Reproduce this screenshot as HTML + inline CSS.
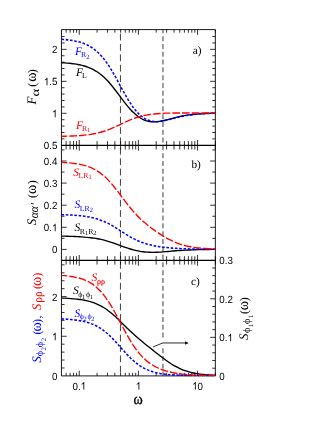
<!DOCTYPE html>
<html><head><meta charset="utf-8"><title>Figure</title>
<style>
html,body{margin:0;padding:0;background:#fff;}
body{width:332px;height:430px;overflow:hidden;position:relative;font-family:"Liberation Sans",sans-serif;}
svg text{white-space:pre;}
</style></head><body>
<svg width="332" height="430" viewBox="0 0 332 430" style="position:absolute;left:0;top:0;will-change:transform" text-rendering="geometricPrecision">
<rect width="332" height="430" fill="#fff"/>
<defs><clipPath id="ca"><rect x="60.95" y="29.6" width="154.9" height="346.9"/></clipPath></defs>
<path d="M120.45 29.6V375.9" stroke="#000" stroke-width="0.75" stroke-dasharray="6.8 3.58" stroke-dashoffset="6.3" fill="none"/>
<path d="M162.95 29.6V375.9" stroke="#858585" stroke-width="1.6" stroke-dasharray="5 2.8" stroke-dashoffset="1.25" fill="none"/>
<path d="M66.13 29.6V32.7M66.13 141.1V149.5M66.13 256.2V264.6M66.13 372.8V375.9M70.09 29.6V32.7M70.09 141.1V149.5M70.09 256.2V264.6M70.09 372.8V375.9M73.52 29.6V32.7M73.52 141.1V149.5M73.52 256.2V264.6M73.52 372.8V375.9M76.55 29.6V32.7M76.55 141.1V149.5M76.55 256.2V264.6M76.55 372.8V375.9M79.25 29.6V34.8M79.25 139.9V150.7M79.25 255V265.8M79.25 370.7V375.9M97.06 29.6V32.7M97.06 141.1V149.5M97.06 256.2V264.6M97.06 372.8V375.9M107.47 29.6V32.7M107.47 141.1V149.5M107.47 256.2V264.6M107.47 372.8V375.9M114.86 29.6V32.7M114.86 141.1V149.5M114.86 256.2V264.6M114.86 372.8V375.9M120.6 29.6V32.7M120.6 141.1V149.5M120.6 256.2V264.6M120.6 372.8V375.9M125.28 29.6V32.7M125.28 141.1V149.5M125.28 256.2V264.6M125.28 372.8V375.9M129.24 29.6V32.7M129.24 141.1V149.5M129.24 256.2V264.6M129.24 372.8V375.9M132.67 29.6V32.7M132.67 141.1V149.5M132.67 256.2V264.6M132.67 372.8V375.9M135.69 29.6V32.7M135.69 141.1V149.5M135.69 256.2V264.6M135.69 372.8V375.9M138.4 29.6V34.8M138.4 139.9V150.7M138.4 255V265.8M138.4 370.7V375.9M156.2 29.6V32.7M156.2 141.1V149.5M156.2 256.2V264.6M156.2 372.8V375.9M166.62 29.6V32.7M166.62 141.1V149.5M166.62 256.2V264.6M166.62 372.8V375.9M174.01 29.6V32.7M174.01 141.1V149.5M174.01 256.2V264.6M174.01 372.8V375.9M179.74 29.6V32.7M179.74 141.1V149.5M179.74 256.2V264.6M179.74 372.8V375.9M184.42 29.6V32.7M184.42 141.1V149.5M184.42 256.2V264.6M184.42 372.8V375.9M188.38 29.6V32.7M188.38 141.1V149.5M188.38 256.2V264.6M188.38 372.8V375.9M191.81 29.6V32.7M191.81 141.1V149.5M191.81 256.2V264.6M191.81 372.8V375.9M194.84 29.6V32.7M194.84 141.1V149.5M194.84 256.2V264.6M194.84 372.8V375.9M197.55 29.6V34.8M197.55 139.9V150.7M197.55 255V265.8M197.55 370.7V375.9M215.35 29.6V32.7M215.35 141.1V149.5M215.35 256.2V264.6M215.35 372.8V375.9M61.45 138.88H64.55M212.25 138.88H215.35M61.45 132.49H64.55M212.25 132.49H215.35M61.45 126.09H64.55M212.25 126.09H215.35M61.45 119.69H64.55M212.25 119.69H215.35M61.45 106.9H64.55M212.25 106.9H215.35M61.45 100.51H64.55M212.25 100.51H215.35M61.45 94.11H64.55M212.25 94.11H215.35M61.45 87.72H64.55M212.25 87.72H215.35M61.45 74.93H64.55M212.25 74.93H215.35M61.45 68.53H64.55M212.25 68.53H215.35M61.45 62.14H64.55M212.25 62.14H215.35M61.45 55.74H64.55M212.25 55.74H215.35M61.45 42.95H64.55M212.25 42.95H215.35M61.45 36.56H64.55M212.25 36.56H215.35M61.45 113.3H66.65M210.15 113.3H215.35M61.45 81.32H66.65M210.15 81.32H215.35M61.45 49.35H66.65M210.15 49.35H215.35M61.45 238.35H64.55M212.25 238.35H215.35M61.45 216.25H64.55M212.25 216.25H215.35M61.45 194.15H64.55M212.25 194.15H215.35M61.45 172.05H64.55M212.25 172.05H215.35M61.45 149.95H64.55M212.25 149.95H215.35M61.45 249.4H66.65M210.15 249.4H215.35M61.45 227.3H66.65M210.15 227.3H215.35M61.45 205.2H66.65M210.15 205.2H215.35M61.45 183.1H66.65M210.15 183.1H215.35M61.45 161H66.65M210.15 161H215.35M61.45 367.97H64.55M61.45 360.04H64.55M61.45 352.11H64.55M61.45 344.18H64.55M61.45 328.32H64.55M61.45 320.39H64.55M61.45 312.46H64.55M61.45 304.53H64.55M61.45 288.67H64.55M61.45 280.74H64.55M61.45 272.81H64.55M61.45 264.88H64.55M61.45 336.25H66.65M61.45 296.6H66.65M212.25 368.19H215.35M212.25 360.48H215.35M212.25 352.77H215.35M212.25 345.06H215.35M212.25 329.64H215.35M212.25 321.93H215.35M212.25 314.22H215.35M212.25 306.51H215.35M212.25 291.09H215.35M212.25 283.38H215.35M212.25 275.67H215.35M212.25 267.96H215.35M210.15 337.35H215.35M210.15 298.8H215.35" stroke="#000" stroke-width="0.8" fill="none"/>
<path d="M61.45 29.6H215.35V375.9H61.45Z" stroke="#000" stroke-width="0.9" fill="none"/>
<path d="M61.45 145.3H215.35M61.45 260.4H215.35" stroke="#000" stroke-width="1.15" fill="none"/>
<path d="M61.45 62.72C62 62.76 63.63 62.85 64.72 62.92C65.82 63 66.91 63.08 68 63.18C69.09 63.28 70.18 63.39 71.27 63.51C72.36 63.64 73.46 63.77 74.55 63.93C75.64 64.09 76.73 64.27 77.82 64.47C78.91 64.67 80.01 64.89 81.1 65.15C82.19 65.4 83.28 65.68 84.37 66.01C85.46 66.33 86.55 66.68 87.65 67.08C88.74 67.48 89.83 67.92 90.92 68.41C92.01 68.91 93.1 69.45 94.19 70.06C95.29 70.67 96.38 71.33 97.47 72.06C98.56 72.79 99.65 73.59 100.74 74.46C101.84 75.33 102.93 76.27 104.02 77.28C105.11 78.29 106.2 79.38 107.29 80.53C108.38 81.69 109.48 82.92 110.57 84.2C111.66 85.48 112.75 86.83 113.84 88.21C114.93 89.59 116.02 91.03 117.12 92.47C118.21 93.91 119.3 95.4 120.39 96.85C121.48 98.31 122.57 99.78 123.66 101.2C124.76 102.62 125.85 104.03 126.94 105.36C128.03 106.69 129.12 107.99 130.21 109.19C131.31 110.39 132.4 111.54 133.49 112.58C134.58 113.63 135.67 114.59 136.76 115.46C137.85 116.33 138.95 117.11 140.04 117.79C141.13 118.47 142.22 119.06 143.31 119.56C144.4 120.06 145.49 120.47 146.59 120.8C147.68 121.13 148.77 121.36 149.86 121.54C150.95 121.71 152.04 121.79 153.14 121.83C154.23 121.87 155.32 121.83 156.41 121.75C157.5 121.67 158.59 121.53 159.68 121.36C160.78 121.2 161.87 120.98 162.96 120.75C164.05 120.52 165.14 120.26 166.23 119.99C167.32 119.72 168.42 119.43 169.51 119.15C170.6 118.87 171.69 118.58 172.78 118.3C173.87 118.02 174.96 117.74 176.06 117.47C177.15 117.21 178.24 116.95 179.33 116.71C180.42 116.47 181.51 116.24 182.61 116.03C183.7 115.82 184.79 115.63 185.88 115.45C186.97 115.27 188.06 115.1 189.15 114.95C190.25 114.8 191.34 114.66 192.43 114.54C193.52 114.41 194.61 114.3 195.7 114.2C196.79 114.1 197.89 114.01 198.98 113.93C200.07 113.85 201.16 113.77 202.25 113.71C203.34 113.64 204.44 113.59 205.53 113.53C206.62 113.48 207.71 113.44 208.8 113.4C209.89 113.35 210.98 113.32 212.08 113.29C213.17 113.25 214.8 113.22 215.35 113.2" stroke="#000" stroke-width="1.35" fill="none" clip-path="url(#ca)"/>
<path d="M61.45 39.26C62 39.3 63.63 39.43 64.72 39.53C65.82 39.64 66.91 39.75 68 39.89C69.09 40.02 70.18 40.17 71.27 40.34C72.36 40.51 73.46 40.69 74.55 40.91C75.64 41.13 76.73 41.37 77.82 41.64C78.91 41.92 80.01 42.22 81.1 42.57C82.19 42.92 83.28 43.3 84.37 43.74C85.46 44.18 86.55 44.66 87.65 45.21C88.74 45.76 89.83 46.35 90.92 47.03C92.01 47.71 93.1 48.45 94.19 49.28C95.29 50.11 96.38 51.01 97.47 52.01C98.56 53.01 99.65 54.1 100.74 55.28C101.84 56.47 102.93 57.76 104.02 59.14C105.11 60.53 106.2 62.02 107.29 63.59C108.38 65.17 109.48 66.85 110.57 68.6C111.66 70.35 112.75 72.21 113.84 74.1C114.93 75.98 116.02 77.96 117.12 79.94C118.21 81.91 119.3 83.95 120.39 85.94C121.48 87.94 122.57 89.97 123.66 91.92C124.76 93.87 125.85 95.81 126.94 97.65C128.03 99.49 129.12 101.28 130.21 102.95C131.31 104.62 132.4 106.21 133.49 107.67C134.58 109.14 135.67 110.49 136.76 111.72C137.85 112.95 138.95 114.06 140.04 115.05C141.13 116.03 142.22 116.89 143.31 117.64C144.4 118.39 145.49 119.01 146.59 119.54C147.68 120.06 148.77 120.47 149.86 120.79C150.95 121.11 152.04 121.32 153.14 121.47C154.23 121.61 155.32 121.66 156.41 121.66C157.5 121.66 158.59 121.57 159.68 121.46C160.78 121.34 161.87 121.16 162.96 120.96C164.05 120.76 165.14 120.51 166.23 120.26C167.32 120 168.42 119.72 169.51 119.44C170.6 119.16 171.69 118.86 172.78 118.58C173.87 118.29 174.96 118 176.06 117.73C177.15 117.46 178.24 117.19 179.33 116.94C180.42 116.69 181.51 116.45 182.61 116.23C183.7 116.01 184.79 115.8 185.88 115.61C186.97 115.42 188.06 115.25 189.15 115.09C190.25 114.93 191.34 114.78 192.43 114.65C193.52 114.52 194.61 114.4 195.7 114.29C196.79 114.18 197.89 114.09 198.98 114C200.07 113.91 201.16 113.83 202.25 113.76C203.34 113.69 204.44 113.63 205.53 113.58C206.62 113.52 207.71 113.47 208.8 113.43C209.89 113.39 210.98 113.35 212.08 113.31C213.17 113.28 214.8 113.24 215.35 113.22" stroke="#0000ff" stroke-width="1.55" fill="none" stroke-dasharray="2.6 1.7" stroke-dashoffset="0" clip-path="url(#ca)"/>
<path d="M61.45 136.31C62 136.3 63.63 136.26 64.72 136.24C65.82 136.21 66.91 136.18 68 136.15C69.09 136.11 70.18 136.08 71.27 136.03C72.36 135.99 73.46 135.94 74.55 135.89C75.64 135.83 76.73 135.77 77.82 135.7C78.91 135.63 80.01 135.55 81.1 135.47C82.19 135.38 83.28 135.28 84.37 135.17C85.46 135.06 86.55 134.94 87.65 134.8C88.74 134.66 89.83 134.51 90.92 134.33C92.01 134.16 93.1 133.97 94.19 133.76C95.29 133.55 96.38 133.32 97.47 133.07C98.56 132.81 99.65 132.54 100.74 132.24C101.84 131.93 102.93 131.61 104.02 131.25C105.11 130.9 106.2 130.52 107.29 130.12C108.38 129.72 109.48 129.29 110.57 128.84C111.66 128.39 112.75 127.92 113.84 127.43C114.93 126.95 116.02 126.44 117.12 125.93C118.21 125.43 119.3 124.9 120.39 124.38C121.48 123.87 122.57 123.34 123.66 122.83C124.76 122.32 125.85 121.81 126.94 121.33C128.03 120.84 129.12 120.37 130.21 119.92C131.31 119.47 132.4 119.04 133.49 118.64C134.58 118.24 135.67 117.86 136.76 117.51C137.85 117.15 138.95 116.83 140.04 116.53C141.13 116.23 142.22 115.96 143.31 115.71C144.4 115.46 145.49 115.24 146.59 115.04C147.68 114.84 148.77 114.66 149.86 114.5C150.95 114.34 152.04 114.2 153.14 114.08C154.23 113.95 155.32 113.85 156.41 113.75C157.5 113.66 158.59 113.58 159.68 113.51C160.78 113.44 161.87 113.38 162.96 113.33C164.05 113.28 165.14 113.23 166.23 113.2C167.32 113.16 168.42 113.13 169.51 113.11C170.6 113.08 171.69 113.07 172.78 113.05C173.87 113.03 174.96 113.02 176.06 113.01C177.15 113 178.24 112.99 179.33 112.98C180.42 112.98 181.51 112.97 182.61 112.97C183.7 112.96 184.79 112.96 185.88 112.96C186.97 112.96 188.06 112.95 189.15 112.95C190.25 112.95 191.34 112.95 192.43 112.95C193.52 112.95 194.61 112.95 195.7 112.95C196.79 112.95 197.89 112.95 198.98 112.95C200.07 112.95 201.16 112.95 202.25 112.95C203.34 112.95 204.44 112.95 205.53 112.95C206.62 112.95 207.71 112.95 208.8 112.95C209.89 112.95 210.98 112.95 212.08 112.95C213.17 112.95 214.8 112.95 215.35 112.95" stroke="#ff0000" stroke-width="1.35" fill="none" stroke-dasharray="7.7 2.0" stroke-dashoffset="1.9" clip-path="url(#ca)"/>
<path d="M61.45 236.13C62 236.14 63.63 236.17 64.72 236.19C65.82 236.21 66.91 236.23 68 236.26C69.09 236.29 70.18 236.32 71.27 236.35C72.36 236.39 73.46 236.43 74.55 236.47C75.64 236.51 76.73 236.56 77.82 236.62C78.91 236.68 80.01 236.74 81.1 236.81C82.19 236.88 83.28 236.96 84.37 237.05C85.46 237.13 86.55 237.23 87.65 237.34C88.74 237.45 89.83 237.58 90.92 237.71C92.01 237.85 93.1 238 94.19 238.17C95.29 238.34 96.38 238.52 97.47 238.72C98.56 238.93 99.65 239.15 100.74 239.39C101.84 239.63 102.93 239.89 104.02 240.17C105.11 240.45 106.2 240.75 107.29 241.07C108.38 241.39 109.48 241.73 110.57 242.09C111.66 242.44 112.75 242.81 113.84 243.2C114.93 243.58 116.02 243.98 117.12 244.38C118.21 244.77 119.3 245.18 120.39 245.59C121.48 245.99 122.57 246.39 123.66 246.79C124.76 247.18 125.85 247.56 126.94 247.93C128.03 248.3 129.12 248.65 130.21 248.98C131.31 249.31 132.4 249.63 133.49 249.91C134.58 250.19 135.67 250.46 136.76 250.69C137.85 250.93 138.95 251.13 140.04 251.32C141.13 251.5 142.22 251.65 143.31 251.78C144.4 251.91 145.49 252.01 146.59 252.09C147.68 252.17 148.77 252.23 149.86 252.26C150.95 252.3 152.04 252.31 153.14 252.3C154.23 252.3 155.32 252.27 156.41 252.24C157.5 252.2 158.59 252.14 159.68 252.08C160.78 252.02 161.87 251.94 162.96 251.86C164.05 251.78 165.14 251.69 166.23 251.6C167.32 251.51 168.42 251.42 169.51 251.32C170.6 251.23 171.69 251.13 172.78 251.04C173.87 250.95 174.96 250.86 176.06 250.77C177.15 250.69 178.24 250.6 179.33 250.53C180.42 250.45 181.51 250.38 182.61 250.31C183.7 250.24 184.79 250.18 185.88 250.12C186.97 250.06 188.06 250.01 189.15 249.96C190.25 249.91 191.34 249.87 192.43 249.83C193.52 249.79 194.61 249.75 195.7 249.72C196.79 249.68 197.89 249.66 198.98 249.63C200.07 249.6 201.16 249.58 202.25 249.56C203.34 249.54 204.44 249.52 205.53 249.5C206.62 249.49 207.71 249.47 208.8 249.46C209.89 249.45 210.98 249.43 212.08 249.42C213.17 249.41 214.8 249.4 215.35 249.4" stroke="#000" stroke-width="1.35" fill="none" clip-path="url(#ca)"/>
<path d="M61.45 214.7C62 214.71 63.63 214.76 64.72 214.79C65.82 214.83 66.91 214.87 68 214.91C69.09 214.96 70.18 215.01 71.27 215.07C72.36 215.12 73.46 215.19 74.55 215.26C75.64 215.34 76.73 215.42 77.82 215.51C78.91 215.61 80.01 215.71 81.1 215.83C82.19 215.95 83.28 216.08 84.37 216.23C85.46 216.38 86.55 216.54 87.65 216.73C88.74 216.92 89.83 217.12 90.92 217.35C92.01 217.59 93.1 217.84 94.19 218.12C95.29 218.41 96.38 218.71 97.47 219.06C98.56 219.4 99.65 219.77 100.74 220.18C101.84 220.59 102.93 221.03 104.02 221.5C105.11 221.98 106.2 222.49 107.29 223.03C108.38 223.58 109.48 224.16 110.57 224.76C111.66 225.37 112.75 226.01 113.84 226.66C114.93 227.32 116.02 228 117.12 228.69C118.21 229.38 119.3 230.09 120.39 230.8C121.48 231.5 122.57 232.21 123.66 232.91C124.76 233.6 125.85 234.3 126.94 234.96C128.03 235.63 129.12 236.28 130.21 236.9C131.31 237.52 132.4 238.12 133.49 238.68C134.58 239.25 135.67 239.78 136.76 240.28C137.85 240.78 138.95 241.25 140.04 241.68C141.13 242.12 142.22 242.52 143.31 242.89C144.4 243.27 145.49 243.61 146.59 243.93C147.68 244.24 148.77 244.53 149.86 244.8C150.95 245.07 152.04 245.32 153.14 245.54C154.23 245.77 155.32 245.98 156.41 246.17C157.5 246.36 158.59 246.54 159.68 246.7C160.78 246.86 161.87 247.01 162.96 247.15C164.05 247.29 165.14 247.41 166.23 247.53C167.32 247.65 168.42 247.75 169.51 247.85C170.6 247.95 171.69 248.04 172.78 248.12C173.87 248.21 174.96 248.28 176.06 248.35C177.15 248.42 178.24 248.48 179.33 248.54C180.42 248.59 181.51 248.64 182.61 248.69C183.7 248.74 184.79 248.78 185.88 248.82C186.97 248.85 188.06 248.89 189.15 248.92C190.25 248.95 191.34 248.97 192.43 249C193.52 249.02 194.61 249.04 195.7 249.06C196.79 249.08 197.89 249.1 198.98 249.12C200.07 249.13 201.16 249.14 202.25 249.16C203.34 249.17 204.44 249.18 205.53 249.19C206.62 249.2 207.71 249.2 208.8 249.21C209.89 249.22 210.98 249.23 212.08 249.23C213.17 249.24 214.8 249.24 215.35 249.25" stroke="#0000ff" stroke-width="1.55" fill="none" stroke-dasharray="2.6 1.7" stroke-dashoffset="0" clip-path="url(#ca)"/>
<path d="M61.45 162.37C62 162.4 63.63 162.48 64.72 162.55C65.82 162.62 66.91 162.7 68 162.79C69.09 162.89 70.18 162.99 71.27 163.1C72.36 163.22 73.46 163.35 74.55 163.5C75.64 163.65 76.73 163.81 77.82 164C78.91 164.19 80.01 164.39 81.1 164.63C82.19 164.87 83.28 165.13 84.37 165.43C85.46 165.74 86.55 166.06 87.65 166.44C88.74 166.82 89.83 167.22 90.92 167.69C92.01 168.16 93.1 168.66 94.19 169.23C95.29 169.8 96.38 170.42 97.47 171.11C98.56 171.8 99.65 172.55 100.74 173.37C101.84 174.19 102.93 175.08 104.02 176.03C105.11 176.99 106.2 178.02 107.29 179.12C108.38 180.22 109.48 181.39 110.57 182.61C111.66 183.84 112.75 185.14 113.84 186.47C114.93 187.8 116.02 189.19 117.12 190.6C118.21 192.01 119.3 193.47 120.39 194.91C121.48 196.36 122.57 197.83 123.66 199.28C124.76 200.72 125.85 202.17 126.94 203.58C128.03 204.98 129.12 206.37 130.21 207.71C131.31 209.04 132.4 210.34 133.49 211.59C134.58 212.84 135.67 214.04 136.76 215.19C137.85 216.34 138.95 217.44 140.04 218.49C141.13 219.55 142.22 220.55 143.31 221.53C144.4 222.5 145.49 223.42 146.59 224.32C147.68 225.22 148.77 226.08 149.86 226.92C150.95 227.76 152.04 228.57 153.14 229.36C154.23 230.15 155.32 230.92 156.41 231.67C157.5 232.42 158.59 233.14 159.68 233.85C160.78 234.56 161.87 235.25 162.96 235.91C164.05 236.58 165.14 237.22 166.23 237.84C167.32 238.45 168.42 239.05 169.51 239.61C170.6 240.17 171.69 240.71 172.78 241.21C173.87 241.71 174.96 242.19 176.06 242.63C177.15 243.07 178.24 243.48 179.33 243.86C180.42 244.24 181.51 244.59 182.61 244.91C183.7 245.23 184.79 245.52 185.88 245.79C186.97 246.06 188.06 246.3 189.15 246.52C190.25 246.74 191.34 246.94 192.43 247.11C193.52 247.29 194.61 247.45 195.7 247.6C196.79 247.74 197.89 247.87 198.98 247.98C200.07 248.1 201.16 248.2 202.25 248.29C203.34 248.38 204.44 248.46 205.53 248.53C206.62 248.6 207.71 248.66 208.8 248.72C209.89 248.78 210.98 248.83 212.08 248.87C213.17 248.92 214.8 248.97 215.35 248.99" stroke="#ff0000" stroke-width="1.35" fill="none" stroke-dasharray="7.7 2.0" stroke-dashoffset="1.9" clip-path="url(#ca)"/>
<path d="M61.45 298.05C62 298.07 63.63 298.13 64.72 298.18C65.82 298.23 66.91 298.29 68 298.35C69.09 298.42 70.18 298.49 71.27 298.57C72.36 298.65 73.46 298.74 74.55 298.85C75.64 298.96 76.73 299.07 77.82 299.21C78.91 299.34 80.01 299.49 81.1 299.66C82.19 299.83 83.28 300.02 84.37 300.23C85.46 300.45 86.55 300.68 87.65 300.95C88.74 301.21 89.83 301.51 90.92 301.84C92.01 302.17 93.1 302.53 94.19 302.94C95.29 303.35 96.38 303.79 97.47 304.28C98.56 304.77 99.65 305.31 100.74 305.89C101.84 306.48 102.93 307.11 104.02 307.8C105.11 308.49 106.2 309.23 107.29 310.02C108.38 310.8 109.48 311.65 110.57 312.53C111.66 313.41 112.75 314.35 113.84 315.31C114.93 316.28 116.02 317.29 117.12 318.32C118.21 319.34 119.3 320.41 120.39 321.47C121.48 322.54 122.57 323.62 123.66 324.7C124.76 325.77 125.85 326.86 126.94 327.92C128.03 328.98 129.12 330.04 130.21 331.08C131.31 332.11 132.4 333.13 133.49 334.12C134.58 335.12 135.67 336.09 136.76 337.04C137.85 338 138.95 338.93 140.04 339.84C141.13 340.76 142.22 341.66 143.31 342.55C144.4 343.44 145.49 344.32 146.59 345.19C147.68 346.06 148.77 346.93 149.86 347.8C150.95 348.66 152.04 349.53 153.14 350.39C154.23 351.25 155.32 352.12 156.41 352.98C157.5 353.83 158.59 354.69 159.68 355.54C160.78 356.39 161.87 357.23 162.96 358.05C164.05 358.87 165.14 359.68 166.23 360.46C167.32 361.25 168.42 362.01 169.51 362.74C170.6 363.46 171.69 364.17 172.78 364.83C173.87 365.49 174.96 366.12 176.06 366.7C177.15 367.29 178.24 367.84 179.33 368.35C180.42 368.86 181.51 369.33 182.61 369.76C183.7 370.2 184.79 370.59 185.88 370.96C186.97 371.32 188.06 371.65 189.15 371.95C190.25 372.25 191.34 372.52 192.43 372.76C193.52 373.01 194.61 373.22 195.7 373.42C196.79 373.62 197.89 373.79 198.98 373.95C200.07 374.11 201.16 374.24 202.25 374.37C203.34 374.49 204.44 374.6 205.53 374.7C206.62 374.8 207.71 374.89 208.8 374.96C209.89 375.04 210.98 375.11 212.08 375.17C213.17 375.23 214.8 375.31 215.35 375.33" stroke="#000" stroke-width="1.35" fill="none" clip-path="url(#ca)"/>
<path d="M61.45 318.89C62 318.91 63.63 318.99 64.72 319.05C65.82 319.11 66.91 319.18 68 319.26C69.09 319.34 70.18 319.43 71.27 319.53C72.36 319.63 73.46 319.75 74.55 319.88C75.64 320.01 76.73 320.15 77.82 320.32C78.91 320.48 80.01 320.66 81.1 320.87C82.19 321.08 83.28 321.31 84.37 321.58C85.46 321.84 86.55 322.13 87.65 322.46C88.74 322.79 89.83 323.14 90.92 323.55C92.01 323.96 93.1 324.4 94.19 324.9C95.29 325.4 96.38 325.94 97.47 326.54C98.56 327.15 99.65 327.8 100.74 328.52C101.84 329.23 102.93 330 104.02 330.84C105.11 331.67 106.2 332.57 107.29 333.52C108.38 334.48 109.48 335.49 110.57 336.55C111.66 337.61 112.75 338.74 113.84 339.88C114.93 341.03 116.02 342.23 117.12 343.43C118.21 344.64 119.3 345.88 120.39 347.11C121.48 348.33 122.57 349.58 123.66 350.79C124.76 352 125.85 353.2 126.94 354.36C128.03 355.51 129.12 356.64 130.21 357.71C131.31 358.78 132.4 359.81 133.49 360.77C134.58 361.73 135.67 362.64 136.76 363.48C137.85 364.32 138.95 365.1 140.04 365.83C141.13 366.55 142.22 367.21 143.31 367.81C144.4 368.42 145.49 368.96 146.59 369.46C147.68 369.96 148.77 370.41 149.86 370.81C150.95 371.21 152.04 371.57 153.14 371.89C154.23 372.22 155.32 372.5 156.41 372.75C157.5 373.01 158.59 373.22 159.68 373.42C160.78 373.62 161.87 373.79 162.96 373.94C164.05 374.1 165.14 374.23 166.23 374.34C167.32 374.46 168.42 374.56 169.51 374.65C170.6 374.74 171.69 374.81 172.78 374.88C173.87 374.95 174.96 375 176.06 375.06C177.15 375.11 178.24 375.15 179.33 375.19C180.42 375.23 181.51 375.26 182.61 375.29C183.7 375.32 184.79 375.34 185.88 375.36C186.97 375.38 188.06 375.4 189.15 375.42C190.25 375.43 191.34 375.45 192.43 375.46C193.52 375.47 194.61 375.48 195.7 375.49C196.79 375.5 197.89 375.51 198.98 375.52C200.07 375.52 201.16 375.53 202.25 375.54C203.34 375.54 204.44 375.55 205.53 375.55C206.62 375.56 207.71 375.56 208.8 375.56C209.89 375.57 210.98 375.57 212.08 375.57C213.17 375.57 214.8 375.58 215.35 375.58" stroke="#0000ff" stroke-width="1.55" fill="none" stroke-dasharray="2.6 1.7" stroke-dashoffset="0" clip-path="url(#ca)"/>
<path d="M61.45 275.4C62 275.45 63.63 275.57 64.72 275.67C65.82 275.78 66.91 275.89 68 276.03C69.09 276.16 70.18 276.31 71.27 276.48C72.36 276.65 73.46 276.84 74.55 277.05C75.64 277.27 76.73 277.51 77.82 277.79C78.91 278.06 80.01 278.37 81.1 278.72C82.19 279.07 83.28 279.45 84.37 279.89C85.46 280.33 86.55 280.81 87.65 281.36C88.74 281.91 89.83 282.51 90.92 283.19C92.01 283.87 93.1 284.61 94.19 285.44C95.29 286.27 96.38 287.17 97.47 288.18C98.56 289.19 99.65 290.27 100.74 291.47C101.84 292.67 102.93 293.96 104.02 295.35C105.11 296.75 106.2 298.24 107.29 299.84C108.38 301.43 109.48 303.13 110.57 304.9C111.66 306.67 112.75 308.55 113.84 310.47C114.93 312.39 116.02 314.4 117.12 316.41C118.21 318.43 119.3 320.52 120.39 322.57C121.48 324.63 122.57 326.72 123.66 328.76C124.76 330.79 125.85 332.82 126.94 334.77C128.03 336.71 129.12 338.62 130.21 340.44C131.31 342.25 132.4 344 133.49 345.64C134.58 347.28 135.67 348.84 136.76 350.29C137.85 351.75 138.95 353.1 140.04 354.37C141.13 355.63 142.22 356.79 143.31 357.88C144.4 358.96 145.49 359.94 146.59 360.86C147.68 361.78 148.77 362.61 149.86 363.38C150.95 364.15 152.04 364.84 153.14 365.49C154.23 366.14 155.32 366.72 156.41 367.26C157.5 367.8 158.59 368.29 159.68 368.74C160.78 369.2 161.87 369.6 162.96 369.99C164.05 370.37 165.14 370.71 166.23 371.03C167.32 371.35 168.42 371.63 169.51 371.9C170.6 372.16 171.69 372.4 172.78 372.62C173.87 372.85 174.96 373.04 176.06 373.23C177.15 373.41 178.24 373.57 179.33 373.72C180.42 373.87 181.51 374 182.61 374.12C183.7 374.25 184.79 374.35 185.88 374.45C186.97 374.55 188.06 374.64 189.15 374.72C190.25 374.79 191.34 374.86 192.43 374.93C193.52 374.99 194.61 375.04 195.7 375.09C196.79 375.14 197.89 375.19 198.98 375.23C200.07 375.26 201.16 375.3 202.25 375.33C203.34 375.36 204.44 375.39 205.53 375.41C206.62 375.44 207.71 375.46 208.8 375.48C209.89 375.49 210.98 375.51 212.08 375.53C213.17 375.54 214.8 375.56 215.35 375.56" stroke="#ff0000" stroke-width="1.35" fill="none" stroke-dasharray="7.7 2.0" stroke-dashoffset="1.9" clip-path="url(#ca)"/>
<path d="M162.95 339V345.6" stroke="#fff" stroke-width="2.6" fill="none"/><path d="M153.1 346.9L163 342.9" stroke="#000" stroke-width="0.8" fill="none"/><path d="M162.8 342.95H186" stroke="#333" stroke-width="1.05" fill="none"/><path d="M188.6 343L185.2 341.3V344.7Z" fill="#000"/>
<text transform="translate(72.46 389.5) scale(0.94 1.0)" font-family="Liberation Sans, sans-serif" font-size="10.4" text-anchor="start" fill="#000">0.</text>
<path transform="translate(80.61 389.5) scale(0.00477 -0.00508)" d="M763 0H583V1147Q518 1085 412.5 1023Q307 961 223 930V1104Q374 1175 487 1276Q600 1377 647 1472H763Z" fill="#000"/>
<path transform="translate(135.68 389.5) scale(0.00477 -0.00508)" d="M763 0H583V1147Q518 1085 412.5 1023Q307 961 223 930V1104Q374 1175 487 1276Q600 1377 647 1472H763Z" fill="#000"/>
<path transform="translate(192.11 389.5) scale(0.00477 -0.00508)" d="M763 0H583V1147Q518 1085 412.5 1023Q307 961 223 930V1104Q374 1175 487 1276Q600 1377 647 1472H763Z" fill="#000"/>
<text transform="translate(197.55 389.5) scale(0.94 1.0)" font-family="Liberation Sans, sans-serif" font-size="10.4" text-anchor="start" fill="#000">0</text>
<text transform="translate(43.81 149.28) scale(0.94 1.0)" font-family="Liberation Sans, sans-serif" font-size="10.4" text-anchor="start" fill="#000">0.5</text>
<path transform="translate(51.96 117.3) scale(0.00477 -0.00508)" d="M763 0H583V1147Q518 1085 412.5 1023Q307 961 223 930V1104Q374 1175 487 1276Q600 1377 647 1472H763Z" fill="#000"/>
<path transform="translate(43.81 85.32) scale(0.00477 -0.00508)" d="M763 0H583V1147Q518 1085 412.5 1023Q307 961 223 930V1104Q374 1175 487 1276Q600 1377 647 1472H763Z" fill="#000"/>
<text transform="translate(49.25 85.32) scale(0.94 1.0)" font-family="Liberation Sans, sans-serif" font-size="10.4" text-anchor="start" fill="#000">.5</text>
<text transform="translate(51.96 53.35) scale(0.94 1.0)" font-family="Liberation Sans, sans-serif" font-size="10.4" text-anchor="start" fill="#000">2</text>
<text transform="translate(51.96 253.4) scale(0.94 1.0)" font-family="Liberation Sans, sans-serif" font-size="10.4" text-anchor="start" fill="#000">0</text>
<text transform="translate(43.81 231.3) scale(0.94 1.0)" font-family="Liberation Sans, sans-serif" font-size="10.4" text-anchor="start" fill="#000">0.</text>
<path transform="translate(51.96 231.3) scale(0.00477 -0.00508)" d="M763 0H583V1147Q518 1085 412.5 1023Q307 961 223 930V1104Q374 1175 487 1276Q600 1377 647 1472H763Z" fill="#000"/>
<text transform="translate(43.81 209.2) scale(0.94 1.0)" font-family="Liberation Sans, sans-serif" font-size="10.4" text-anchor="start" fill="#000">0.2</text>
<text transform="translate(43.81 187.1) scale(0.94 1.0)" font-family="Liberation Sans, sans-serif" font-size="10.4" text-anchor="start" fill="#000">0.3</text>
<text transform="translate(43.81 165) scale(0.94 1.0)" font-family="Liberation Sans, sans-serif" font-size="10.4" text-anchor="start" fill="#000">0.4</text>
<text transform="translate(51.96 379.9) scale(0.94 1.0)" font-family="Liberation Sans, sans-serif" font-size="10.4" text-anchor="start" fill="#000">0</text>
<path transform="translate(51.96 340.25) scale(0.00477 -0.00508)" d="M763 0H583V1147Q518 1085 412.5 1023Q307 961 223 930V1104Q374 1175 487 1276Q600 1377 647 1472H763Z" fill="#000"/>
<text transform="translate(51.96 300.6) scale(0.94 1.0)" font-family="Liberation Sans, sans-serif" font-size="10.4" text-anchor="start" fill="#000">2</text>
<text transform="translate(219.3 379.9) scale(0.94 1.0)" font-family="Liberation Sans, sans-serif" font-size="10.4" text-anchor="start" fill="#000">0</text>
<text transform="translate(219.3 341.35) scale(0.94 1.0)" font-family="Liberation Sans, sans-serif" font-size="10.4" text-anchor="start" fill="#000">0.</text>
<path transform="translate(227.45 341.35) scale(0.00477 -0.00508)" d="M763 0H583V1147Q518 1085 412.5 1023Q307 961 223 930V1104Q374 1175 487 1276Q600 1377 647 1472H763Z" fill="#000"/>
<text transform="translate(219.3 302.8) scale(0.94 1.0)" font-family="Liberation Sans, sans-serif" font-size="10.4" text-anchor="start" fill="#000">0.2</text>
<text transform="translate(219.3 264.25) scale(0.94 1.0)" font-family="Liberation Sans, sans-serif" font-size="10.4" text-anchor="start" fill="#000">0.3</text>
<text transform="translate(192.7 53.9)" font-family="Liberation Serif, serif" font-size="11.3" text-anchor="start" fill="#000">a)</text>
<text transform="translate(191.4 167.9)" font-family="Liberation Serif, serif" font-size="11.3" text-anchor="start" fill="#000">b)</text>
<text transform="translate(191 285.2)" font-family="Liberation Serif, serif" font-size="11.3" text-anchor="start" fill="#000">c)</text>
<text transform="translate(138.2 403.7) scale(1.0 1.1)" font-family="Liberation Serif, serif" font-size="14" stroke="#000" stroke-width="0.3" text-anchor="middle" fill="#000">ω</text>
<text transform="translate(75.1 54.9)" font-family="Liberation Serif, serif" font-size="11.5" font-style="italic" text-anchor="start" fill="#0000ff">F</text>
<text transform="translate(81.03 57.3)" font-family="Liberation Serif, serif" font-size="7.8" text-anchor="start" fill="#0000ff">R</text>
<text transform="translate(86.13 58.5)" font-family="Liberation Serif, serif" font-size="6.4" text-anchor="start" fill="#0000ff">2</text>
<text transform="translate(76.1 75.8)" font-family="Liberation Serif, serif" font-size="11.5" font-style="italic" text-anchor="start" fill="#000">F</text>
<text transform="translate(82.03 78.2)" font-family="Liberation Serif, serif" font-size="7.8" text-anchor="start" fill="#000">L</text>
<text transform="translate(76 128.8)" font-family="Liberation Serif, serif" font-size="11.5" font-style="italic" text-anchor="start" fill="#ff0000">F</text>
<text transform="translate(81.93 131.2)" font-family="Liberation Serif, serif" font-size="7.8" text-anchor="start" fill="#ff0000">R</text>
<text transform="translate(87.03 132.4)" font-family="Liberation Serif, serif" font-size="6.4" text-anchor="start" fill="#ff0000">1</text>
<text transform="translate(73.2 175.55)" font-family="Liberation Serif, serif" font-size="11.5" font-style="italic" text-anchor="start" fill="#ff0000">S</text>
<text transform="translate(78.55 177.95)" font-family="Liberation Serif, serif" font-size="7.8" text-anchor="start" fill="#ff0000">L</text>
<text transform="translate(83.32 177.95)" font-family="Liberation Serif, serif" font-size="7.8" text-anchor="start" fill="#ff0000">R</text>
<text transform="translate(88.42 179.15)" font-family="Liberation Serif, serif" font-size="6.4" text-anchor="start" fill="#ff0000">1</text>
<text transform="translate(74.5 208.1)" font-family="Liberation Serif, serif" font-size="11.5" font-style="italic" text-anchor="start" fill="#0000ff">S</text>
<text transform="translate(79.85 210.5)" font-family="Liberation Serif, serif" font-size="7.8" text-anchor="start" fill="#0000ff">L</text>
<text transform="translate(84.62 210.5)" font-family="Liberation Serif, serif" font-size="7.8" text-anchor="start" fill="#0000ff">R</text>
<text transform="translate(89.72 211.7)" font-family="Liberation Serif, serif" font-size="6.4" text-anchor="start" fill="#0000ff">2</text>
<text transform="translate(74.5 231.3)" font-family="Liberation Serif, serif" font-size="11.5" font-style="italic" text-anchor="start" fill="#000">S</text>
<text transform="translate(79.85 233.7)" font-family="Liberation Serif, serif" font-size="7.8" text-anchor="start" fill="#000">R</text>
<text transform="translate(84.95 234.9)" font-family="Liberation Serif, serif" font-size="6.4" text-anchor="start" fill="#000">1</text>
<text transform="translate(88.15 233.7)" font-family="Liberation Serif, serif" font-size="7.8" text-anchor="start" fill="#000">R</text>
<text transform="translate(93.26 234.9)" font-family="Liberation Serif, serif" font-size="6.4" text-anchor="start" fill="#000">2</text>
<text transform="translate(91.6 280.7)" font-family="Liberation Serif, serif" font-size="11.5" font-style="italic" text-anchor="start" fill="#ff0000">S</text>
<text transform="translate(96.95 283.6)" font-family="Liberation Serif, serif" font-size="8.0" stroke="#ff0000" stroke-width="0.2" text-anchor="start" fill="#ff0000">ρ</text>
<text transform="translate(100.94 283.6)" font-family="Liberation Serif, serif" font-size="8.0" stroke="#ff0000" stroke-width="0.2" text-anchor="start" fill="#ff0000">ρ</text>
<text transform="translate(73 294)" font-family="Liberation Serif, serif" font-size="11.5" font-style="italic" text-anchor="start" fill="#000">S</text>
<text transform="translate(78.35 296.6)" font-family="Liberation Serif, serif" font-size="7.9" text-anchor="start" fill="#000">ϕ</text>
<text transform="translate(82.11 298.5)" font-family="Liberation Serif, serif" font-size="6.4" text-anchor="start" fill="#000">1</text>
<text transform="translate(86.06 296.6)" font-family="Liberation Serif, serif" font-size="7.9" text-anchor="start" fill="#000">ϕ</text>
<text transform="translate(89.81 298.5)" font-family="Liberation Serif, serif" font-size="6.4" text-anchor="start" fill="#000">1</text>
<text transform="translate(74.5 316.5)" font-family="Liberation Serif, serif" font-size="11.5" font-style="italic" text-anchor="start" fill="#0000ff">S</text>
<text transform="translate(79.85 319.1)" font-family="Liberation Serif, serif" font-size="7.9" text-anchor="start" fill="#0000ff">ϕ</text>
<text transform="translate(83.61 321)" font-family="Liberation Serif, serif" font-size="6.4" text-anchor="start" fill="#0000ff">2</text>
<text transform="translate(87.56 319.1)" font-family="Liberation Serif, serif" font-size="7.9" text-anchor="start" fill="#0000ff">ϕ</text>
<text transform="translate(91.31 321)" font-family="Liberation Serif, serif" font-size="6.4" text-anchor="start" fill="#0000ff">2</text>
<text transform="translate(36 104.4) rotate(-90)" font-family="Liberation Serif, serif" font-size="13" font-style="italic" fill="#000">F</text>
<text transform="translate(38.6 96.4) rotate(-90) scale(1.3 1.0)" font-family="Liberation Serif, serif" font-size="11.4" fill="#000">α</text>
<text transform="translate(35.5 86.8) rotate(-90)" font-family="Liberation Serif, serif" font-size="12" fill="#000">(</text>
<text transform="translate(35.9 81.8) rotate(-90) scale(1.0 1.08)" font-family="Liberation Serif, serif" font-size="14" stroke="#000" stroke-width="0.05" fill="#000">ω</text>
<text transform="translate(35.9 73.2) rotate(-90)" font-family="Liberation Serif, serif" font-size="12" fill="#000">)</text>
<text transform="translate(35.9 225.2) rotate(-90)" font-family="Liberation Serif, serif" font-size="13" font-style="italic" fill="#000">S</text>
<text transform="translate(37.6 218.3) rotate(-90) scale(0.93 1.0)" font-family="Liberation Serif, serif" font-size="12.6" font-style="italic" fill="#000">αα</text>
<text transform="translate(39.3 204.7) rotate(-90)" font-family="Liberation Serif, serif" font-size="12" fill="#000">′</text>
<text transform="translate(35.9 198) rotate(-90)" font-family="Liberation Serif, serif" font-size="12" fill="#000">(</text>
<text transform="translate(35.9 193.9) rotate(-90) scale(1.0 1.08)" font-family="Liberation Serif, serif" font-size="14" stroke="#000" stroke-width="0.05" fill="#000">ω</text>
<text transform="translate(35.9 184.2) rotate(-90)" font-family="Liberation Serif, serif" font-size="12" fill="#000">)</text>
<text transform="translate(40.5 362.8) rotate(-90)" font-family="Liberation Serif, serif" font-size="13" font-style="italic" fill="#0000ff">S</text>
<text transform="translate(42.55 356.3) rotate(-90)" font-family="Liberation Serif, serif" font-size="10.3" fill="#0000ff">ϕ</text>
<text transform="translate(45.85 350.45) rotate(-90)" font-family="Liberation Serif, serif" font-size="6.8" fill="#0000ff">2</text>
<text transform="translate(42.55 347.2) rotate(-90)" font-family="Liberation Serif, serif" font-size="10.3" fill="#0000ff">ϕ</text>
<text transform="translate(45.85 341.35) rotate(-90)" font-family="Liberation Serif, serif" font-size="6.8" fill="#0000ff">2</text>
<text transform="translate(41.1 334.6) rotate(-90)" font-family="Liberation Serif, serif" font-size="12" fill="#0000ff">(</text>
<text transform="translate(41.1 331.5) rotate(-90) scale(1.0 1.08)" font-family="Liberation Serif, serif" font-size="14" stroke="#0000ff" stroke-width="0.05" fill="#0000ff">ω</text>
<text transform="translate(41.1 323) rotate(-90)" font-family="Liberation Serif, serif" font-size="12" fill="#0000ff">)</text>
<text transform="translate(40.7 318.6) rotate(-90)" font-family="Liberation Serif, serif" font-size="12" fill="#0000ff">,</text>
<text transform="translate(40.5 310.3) rotate(-90)" font-family="Liberation Serif, serif" font-size="13" font-style="italic" fill="#ff0000">S</text>
<text transform="translate(42.1 302.7) rotate(-90) scale(0.9 1.0)" font-family="Liberation Serif, serif" font-size="12.5" fill="#ff0000">ρρ</text>
<text transform="translate(41.1 289) rotate(-90)" font-family="Liberation Serif, serif" font-size="12" fill="#ff0000">(</text>
<text transform="translate(41.1 286) rotate(-90) scale(1.0 1.08)" font-family="Liberation Serif, serif" font-size="14" stroke="#ff0000" stroke-width="0.05" fill="#ff0000">ω</text>
<text transform="translate(41.1 276.7) rotate(-90)" font-family="Liberation Serif, serif" font-size="12" fill="#ff0000">)</text>
<text transform="translate(247.5 339.9) rotate(-90)" font-family="Liberation Serif, serif" font-size="13" font-style="italic" fill="#000">S</text>
<text transform="translate(249.65 333.1) rotate(-90)" font-family="Liberation Serif, serif" font-size="10.3" fill="#000">ϕ</text>
<text transform="translate(252.55 327.15) rotate(-90)" font-family="Liberation Serif, serif" font-size="6.8" fill="#000">1</text>
<text transform="translate(249.65 324) rotate(-90)" font-family="Liberation Serif, serif" font-size="10.3" fill="#000">ϕ</text>
<text transform="translate(252.55 318.05) rotate(-90)" font-family="Liberation Serif, serif" font-size="6.8" fill="#000">1</text>
<text transform="translate(248.1 314) rotate(-90)" font-family="Liberation Serif, serif" font-size="12" fill="#000">(</text>
<text transform="translate(248.1 310.2) rotate(-90) scale(1.0 1.08)" font-family="Liberation Serif, serif" font-size="14" stroke="#000" stroke-width="0.05" fill="#000">ω</text>
<text transform="translate(248.1 301.2) rotate(-90)" font-family="Liberation Serif, serif" font-size="12" fill="#000">)</text>
</svg>
</body></html>
